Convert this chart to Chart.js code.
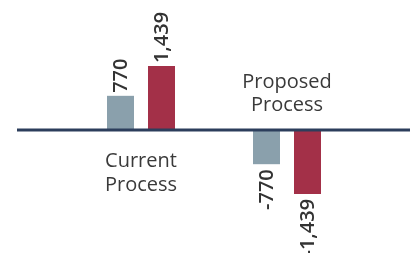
<!DOCTYPE html>
<html>
<head>
<meta charset="utf-8">
<script src="https://cdn.jsdelivr.net/npm/chart.js@4/dist/chart.umd.min.js"></script>
<style>
html,body{margin:0;padding:0;background:#fff;}
canvas{display:block;}
</style>
</head>
<body>
<canvas id="c" width="416" height="253"></canvas>
<script>
const categories = ["Current Process", "Proposed Process"];
const seriesA = [770, -770];
const seriesB = [1439, -1439];
const labelsA = ["770", "-770"];
const labelsB = ["1,439", "-1,439"];

const valueLabels = {
  id: 'valueLabels',
  afterDatasetsDraw(chart) {
    const ctx = chart.ctx;
    const texts = [labelsA, labelsB];
    ctx.save();
    ctx.fillStyle = '#333333';
    ctx.font = '600 20px "Open Sans"';
    ctx.textBaseline = 'middle';
    chart.data.datasets.forEach((ds, di) => {
      const meta = chart.getDatasetMeta(di);
      meta.data.forEach((bar, i) => {
        const v = ds.data[i];
        ctx.save();
        if (v >= 0) {
          ctx.translate(bar.x, bar.y - 3);
          ctx.rotate(-Math.PI / 2);
          ctx.textAlign = 'left';
        } else {
          ctx.translate(bar.x, bar.y + 5);
          ctx.rotate(-Math.PI / 2);
          ctx.textAlign = 'right';
        }
        ctx.fillText(texts[di][i], 0, 1);
        ctx.restore();
      });
    });
    ctx.restore();
  }
};

const zeroLine = {
  id: 'zeroLine',
  afterDatasetsDraw(chart) {
    const ctx = chart.ctx;
    const y = chart.scales.y.getPixelForValue(0);
    ctx.save();
    ctx.strokeStyle = '#2c3e5c';
    ctx.lineWidth = 3;
    ctx.beginPath();
    ctx.moveTo(17, y);
    ctx.lineTo(410, y);
    ctx.stroke();
    ctx.restore();
  }
};

const categoryLabels = {
  id: 'categoryLabels',
  afterDatasetsDraw(chart) {
    const ctx = chart.ctx;
    const xs = chart.scales.x;
    const y0 = chart.scales.y.getPixelForValue(0);
    ctx.save();
    ctx.fillStyle = '#3a3a3a';
    ctx.font = '400 20px "Open Sans"';
    ctx.textAlign = 'center';
    ctx.textBaseline = 'alphabetic';
    categories.forEach((c, i) => {
      const x = xs.getPixelForValue(i);
      const words = c.split(' ');
      const positive = seriesA[i] >= 0;
      if (positive) {
        ctx.fillText(words[0], x, y0 + 37);
        ctx.fillText(words[1], x, y0 + 61);
      } else {
        ctx.fillText(words[0], x, y0 - 42);
        ctx.fillText(words[1], x, y0 - 19);
      }
    });
    ctx.restore();
  }
};

new Chart(document.getElementById('c'), {
  type: 'bar',
  data: {
    labels: categories,
    datasets: [
      { data: seriesA, backgroundColor: '#8aa0ac', categoryPercentage: 0.5616, barPercentage: 0.6585 },
      { data: seriesB, backgroundColor: '#a33048', categoryPercentage: 0.5616, barPercentage: 0.6585 }
    ]
  },
  options: {
    responsive: false,
    animation: false,
    layout: { padding: { left: 68, right: 56, top: 0, bottom: 0 } },
    plugins: { legend: { display: false }, tooltip: { enabled: false } },
    scales: {
      x: { display: false },
      y: { display: false, min: -2770, max: 2928 }
    }
  },
  plugins: [zeroLine, valueLabels, categoryLabels]
});
</script>
</body>
</html>
